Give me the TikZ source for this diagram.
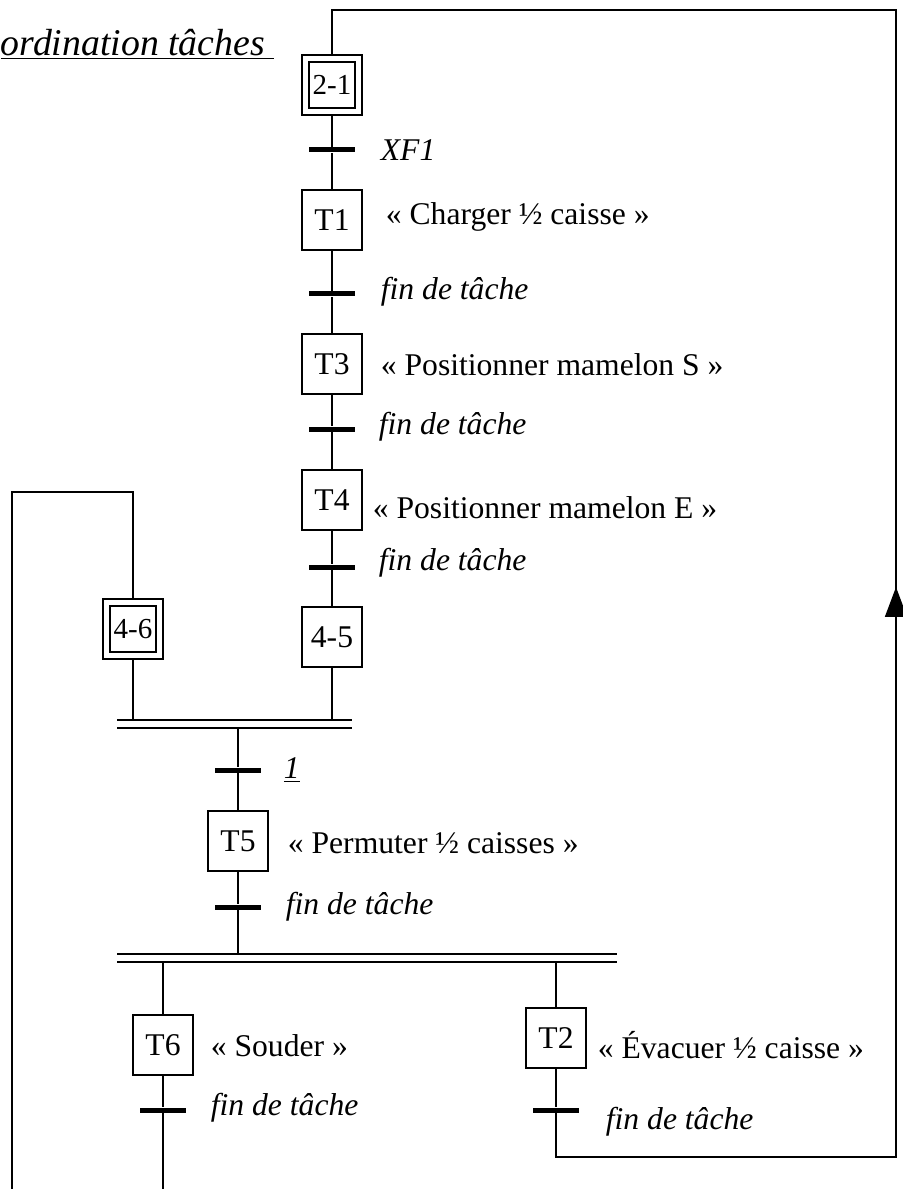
\documentclass[tikz,border=0pt]{standalone}
\usepackage{fontspec}
\setmainfont{Liberation Serif}
\usetikzlibrary{arrows.meta}

\begin{document}
\begin{tikzpicture}[x=0.02cm,y=-0.02cm,line width=1pt,
  font=\fontsize{18pt}{21pt}\selectfont,
  stepbox/.style={draw,minimum size=1.21cm,inner sep=0pt},
  initbox/.style={draw,double,double distance=0.11cm,minimum size=1.06cm,inner sep=0pt,outer sep=0.09cm,font=\fontsize{16.5pt}{19pt}\selectfont},
  trans/.style={fill=black,minimum width=0.92cm,minimum height=0.1cm,inner sep=0pt},
  act/.style={anchor=west,inner sep=0pt},
  rec/.style={anchor=west,inner sep=0pt,font=\fontsize{18pt}{21pt}\selectfont\itshape}]
\useasboundingbox (0,0) rectangle (902,1189);
\node[anchor=west,inner sep=0pt,font=\fontsize{21.5pt}{24pt}\selectfont] (title) at (0,44) {\underline{\textit{ordination tâches}\ }};
\node[initbox] (s21) at (332,85) {2-1};
\node[trans] (c1) at (332,150) {};
\node[rec] (r1) at (380,150) {XF1};
\node[stepbox] (T1) at (332,220) {T1};
\node[act] (a1) at (385,217) {« Charger ½ caisse »};
\node[trans] (c2) at (332,294) {};
\node[rec] (r2) at (380,292) {fin de tâche};
\node[stepbox] (T3) at (332,364) {T3};
\node[act] (a3) at (380,365) {« Positionner mamelon S »};
\node[trans] (c3) at (332,429) {};
\node[rec] (r3) at (378,427) {fin de tâche};
\node[stepbox] (T4) at (332,500) {T4};
\node[act] (a4) at (372,508) {« Positionner mamelon E »};
\node[trans] (c4) at (332,567) {};
\node[rec] (r4) at (378,563) {fin de tâche};
\node[stepbox] (s45) at (332,637) {4-5};
\node[initbox] (s46) at (133,629) {4-6};
\coordinate (y1) at (117,720);
\coordinate (y2) at (352,720);
\coordinate (y3) at (117,728);
\coordinate (y4) at (352,728);
\node[trans] (c5) at (238,770) {};
\node[rec] (r5) at (283,770) {\underline{1}};
\node[stepbox] (T5) at (238,841) {T5};
\node[act] (a5) at (287,843) {« Permuter ½ caisses »};
\node[trans] (c6) at (238,907) {};
\node[rec] (r6) at (285,907) {fin de tâche};
\coordinate (z1) at (117,954);
\coordinate (z2) at (617,954);
\coordinate (z3) at (117,962);
\coordinate (z4) at (617,962);
\node[stepbox] (T6) at (163,1045) {T6};
\node[act] (a6) at (210,1046) {« Souder »};
\node[trans] (c7) at (163,1110) {};
\node[rec] (r7) at (210,1108) {fin de tâche};
\node[stepbox] (T2) at (556,1038) {T2};
\node[act] (a2) at (597,1045) {« Évacuer ½ caisse »};
\node[trans] (c8) at (556,1110) {};
\node[rec] (r8) at (605,1122) {fin de tâche};
\coordinate (b1) at (896,10);
\coordinate (b2) at (896,1157);
\coordinate (b3) at (12,492);
\draw (s21) -- (c1) -- (T1) -- (c2) -- (T3) -- (c3) -- (T4) -- (c4) -- (s45);
\draw (s45) -- (s45 |- y1);
\draw (s46) -- (s46 |- y1);
\draw (y1) -- (y2) (y3) -- (y4);
\draw (c5 |- y3) -- (c5) -- (T5) -- (c6) -- (c6 |- z1);
\draw (z1) -- (z2) (z3) -- (z4);
\draw (T6 |- z3) -- (T6) -- (c7) -- (163,1189);
\draw (T2 |- z3) -- (T2) -- (c8) -- (c8 |- b2) -- (b2) -- (896,590);
\draw[-{Triangle[length=0.6cm,width=0.44cm]}] (896,640) -- (896,587);
\draw (896,600) -- (b1) -- (s21 |- b1) -- (s21);
\draw (s46) -- (s46 |- b3) -- (b3) -- (12,1189);
\end{tikzpicture}
\end{document}
